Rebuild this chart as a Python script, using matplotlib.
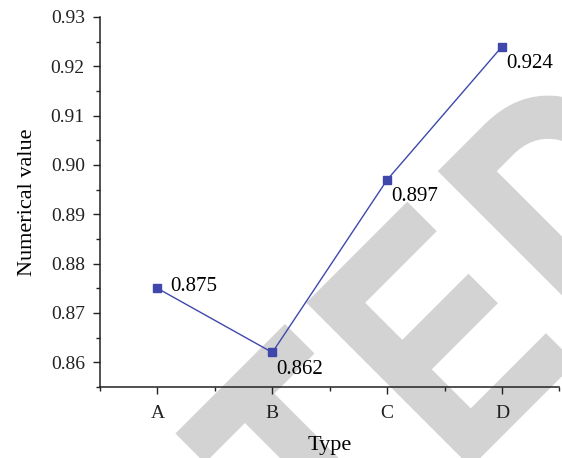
import matplotlib
matplotlib.use('Agg')
import matplotlib.pyplot as plt
from matplotlib.ticker import MultipleLocator, FixedLocator, FormatStrFormatter
from matplotlib.textpath import TextPath
from matplotlib.font_manager import FontProperties
from matplotlib.patches import PathPatch
from matplotlib.transforms import Affine2D

# data
types = ['A', 'B', 'C', 'D']
values = [0.875, 0.862, 0.897, 0.924]
labels = ['0.875', '0.862', '0.897', '0.924']
# label offsets in points (dx, dy)
offsets = [(9, 1.5), (3, -12), (3, -12), (3, -12)]

plt.rcParams['font.family'] = ['Liberation Serif', 'DejaVu Serif']

W, H = 562, 458
fig = plt.figure(figsize=(W / 100, H / 100), dpi=100)
ax = fig.add_axes([0.178, 0.155, 0.8175, 0.808])
ax.patch.set_alpha(0)

# background watermark (end of a diagonal "RETRACTED" stamp)
# letters placed in a frame rotated 45 deg: u along the reading direction,
# v towards the top of the letters, both in pixels
fp = FontProperties(family='Liberation Sans', weight='bold')
cap_px = 228
e_width_px = 143
ref = TextPath((0, 0), 'E', size=100, prop=fp).get_extents()
sy = cap_px / ref.height
sx = e_width_px / ref.width
baseline_v = -661
for letter, u_left, u_right in [('T', None, -30), ('E', 5, None), ('D', 191, None)]:
    p = TextPath((0, 0), letter, size=100, prop=fp)
    bb = p.get_extents()
    if u_left is None:
        u0 = u_right - bb.x1 * sx
    else:
        u0 = u_left - bb.x0 * sx
    tr = (Affine2D().scale(sx, sy).translate(u0, baseline_v).rotate_deg(45)
          .translate(0, H).scale(1 / 100) + fig.dpi_scale_trans)
    # thin outline in the same grey makes the strokes a bit heavier
    fig.patches.append(PathPatch(p, transform=tr, facecolor='#d3d3d3',
                                 edgecolor='#d3d3d3', linewidth=3.5,
                                 joinstyle='miter', zorder=-1))

color = '#3f48aa'
x = list(range(len(types)))
ax.plot(x, values, color=color, lw=1.0, marker='s', markersize=5.5,
        markerfacecolor=color, markeredgecolor=color)

for xi, v, lab, (dx, dy) in zip(x, values, labels, offsets):
    ax.annotate(lab, (xi, v), xytext=(dx, dy), textcoords='offset points',
                fontsize=15, va='center', ha='left')

ax.set_xlim(-0.5, 3.5)
ax.set_ylim(0.855, 0.93)
ax.set_xticks(x)
ax.set_xticklabels(types)
ax.xaxis.set_minor_locator(FixedLocator([-0.5, 0.5, 1.5, 2.5, 3.5]))
ax.yaxis.set_major_locator(MultipleLocator(0.01))
ax.yaxis.set_minor_locator(MultipleLocator(0.005))
ax.yaxis.set_major_formatter(FormatStrFormatter('%.2f'))

ax.spines['top'].set_visible(False)
ax.spines['right'].set_visible(False)
for s in ['left', 'bottom']:
    ax.spines[s].set_linewidth(1.1)
    ax.spines[s].set_color('#222222')

ax.tick_params(which='major', direction='out', length=5, width=1.0,
               labelsize=14, colors='#222222', pad=6)
ax.tick_params(which='minor', direction='out', length=3, width=1.0,
               colors='#222222')
ax.tick_params(axis='x', which='major', pad=8)

ax.set_xlabel('Type', fontsize=16, labelpad=10)
ax.set_ylabel('Numerical value', fontsize=16, labelpad=10)

fig.savefig('out.png', dpi=100)
